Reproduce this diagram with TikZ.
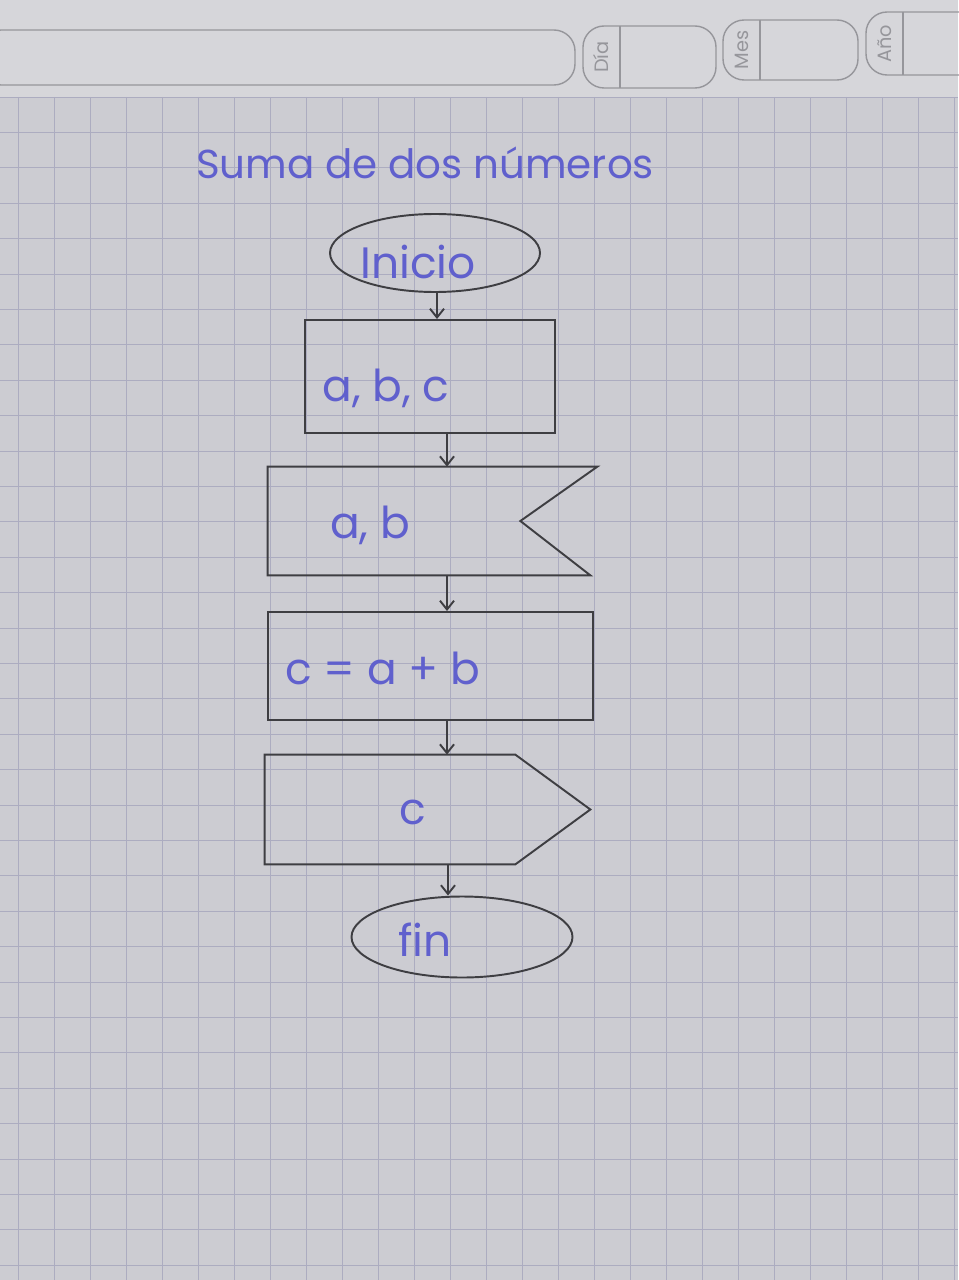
\documentclass[tikz,border=0pt]{standalone}
\usepackage{fontspec}
\setmainfont{Poppins}
\usetikzlibrary{shapes.geometric,arrows.meta,calc}
\definecolor{paper}{RGB}{204,204,210}
\definecolor{paperTop}{RGB}{214,214,218}
\definecolor{gridc}{RGB}{172,172,192}
\definecolor{pencil}{RGB}{62,62,66}
\definecolor{ink}{RGB}{96,96,205}
\definecolor{hdr}{RGB}{150,150,155}
\tikzset{
  pen/.style={draw=pencil,line width=1.1pt},
  txt/.style={text=ink,font=\fontsize{25}{27}\selectfont,inner sep=0pt},
  flow/.style={pen,-{Straight Barb[length=5pt,width=8pt]}},
  shapebox/.style={pen,rectangle,inner sep=0pt},
  hbox/.style={draw=hdr,line width=0.8pt,rounded corners=12pt},
  htxt/.style={text=hdr,font=\fontsize{11}{12}\selectfont,rotate=90}
}
\begin{document}
\begin{tikzpicture}[x=0.02cm,y=-0.02cm]
\useasboundingbox (0,0) rectangle (958,1280);
\fill[paper] (0,0) rectangle (958,1280);
\fill[paperTop] (0,0) rectangle (958,97);
% grid
\foreach \i in {0,...,26} {\draw[gridc,line width=0.55pt] (18+36*\i,97) -- (18+36*\i,1280);}
\foreach \j in {0,...,33} {\draw[gridc,line width=0.55pt] (0,97+35.4*\j) -- (958,97+35.4*\j);}
% header boxes
\draw[hbox] (-20,30) rectangle (575,85);
\draw[hbox] (583,26) rectangle (716,88);
\draw[draw=hdr,line width=0.8pt] (620,26) -- (620,88);
\node[htxt] (dia) at (601,57) {Día};
\draw[hbox] (723,20) rectangle (858,80);
\draw[draw=hdr,line width=0.8pt] (760,20) -- (760,80);
\node[htxt] (mes) at (742,50) {Mes};
\draw[hbox] (866,12) rectangle (990,75);
\draw[draw=hdr,line width=0.8pt] (903,12) -- (903,75);
\node[htxt] (ano) at (885,44) {Año};
% title
\node[txt,font=\fontsize{23}{25}\selectfont] (title) at (425,163) {Suma de dos números};
% start
\node[pen,ellipse,minimum width=210*0.02cm,minimum height=78*0.02cm,inner sep=0pt] (inicio) at (435,253) {};
\node[txt] (tinicio) at (418,262) {Inicio};
% data a,b,c
\node[shapebox,minimum width=250*0.02cm,minimum height=113*0.02cm] (datos) at (430,376.5) {};
\node[txt,anchor=west] (tdatos) at (322,388) {a, b, c};
% input (notched)
\node[minimum width=329*0.02cm,minimum height=108*0.02cm,inner sep=0pt] (entrada) at (432.5,521) {};
\draw[pen] (entrada.north east) -- (entrada.north west) -- (entrada.south west) -- ($(entrada.south east)+(-7,0)$) -- ($(entrada.east)+(-77,0)$) -- cycle;
\node[txt] (tentrada) at (370,525) {a, b};
% process
\node[shapebox,minimum width=325*0.02cm,minimum height=108*0.02cm] (proceso) at (430.5,666) {};
\node[txt,anchor=west] (tproceso) at (285,668) {c = a + b};
% output
\node[minimum width=325*0.02cm,minimum height=109*0.02cm,inner sep=0pt] (salida) at (427.5,809.5) {};
\draw[pen] ($(salida.north east)+(-75,0)$) -- (salida.north west) -- (salida.south west) -- ($(salida.south east)+(-75,0)$) -- (salida.east) -- cycle;
\node[txt] (tsalida) at (413,812) {c};
% end
\node[pen,ellipse,minimum width=221*0.02cm,minimum height=81*0.02cm,inner sep=0pt] (fin) at (462,937) {};
\node[txt] (tfin) at (425,940) {fin};
% connectors
\draw[flow] (inicio.south -| 437,0) -- (datos.north -| 437,0);
\draw[flow] (datos.south -| 447,0) -- (entrada.north -| 447,0);
\draw[flow] (entrada.south -| 447,0) -- (proceso.north -| 447,0);
\draw[flow] (proceso.south -| 447,0) -- (salida.north -| 447,0);
\draw[flow] (salida.south -| 448,0) -- (fin.north -| 448,0);
\end{tikzpicture}
\end{document}
